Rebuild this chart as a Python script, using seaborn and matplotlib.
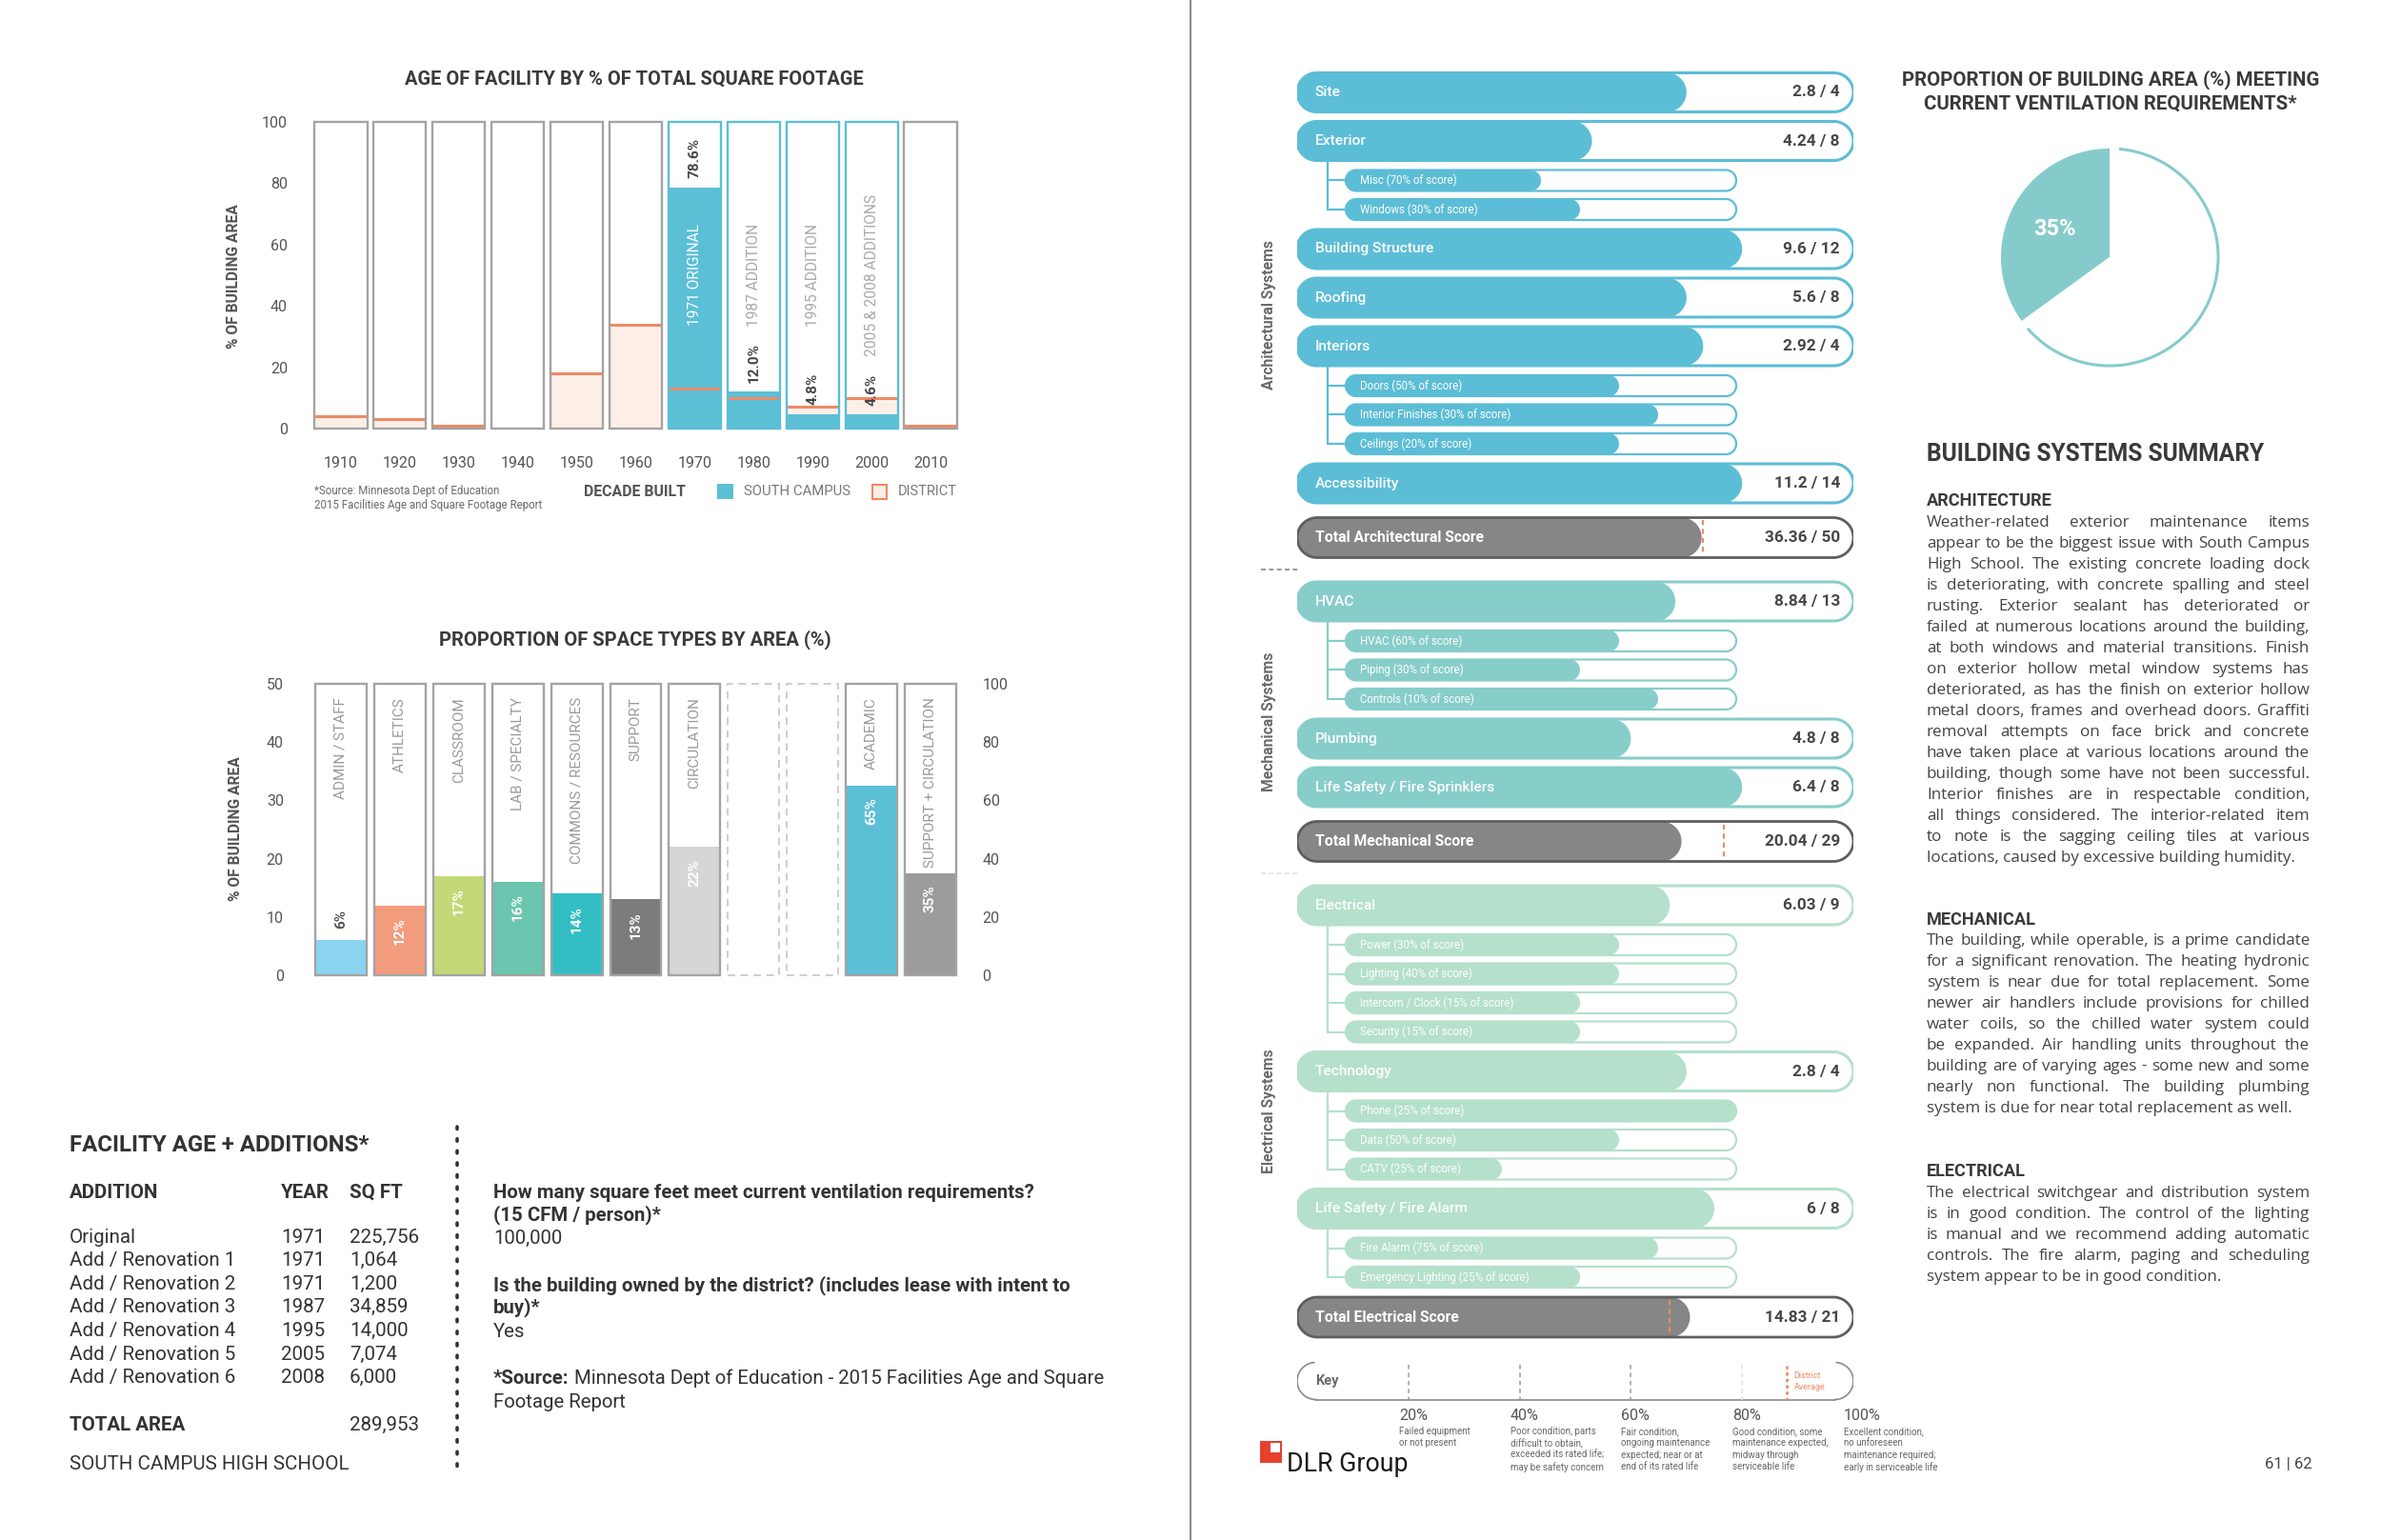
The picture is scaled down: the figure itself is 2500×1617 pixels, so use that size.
import numpy as np
import matplotlib
matplotlib.use("Agg")
import matplotlib.pyplot as plt
import seaborn as sns
from matplotlib.patches import Polygon, Rectangle, Arc

# ======================= DATA =======================
decades = ["1910", "1920", "1930", "1940", "1950", "1960", "1970", "1980", "1990", "2000", "2010"]
district_pct = [4, 3, 1, 0, 18, 34, 13, 10, 7, 10, 1]
campus_pct = [0, 0, 0, 0, 0, 0, 78.6, 12.0, 4.8, 4.6, 0]
campus_phase = ["", "", "", "", "", "", "1971 ORIGINAL", "1987 ADDITION", "1995 ADDITION",
                "2005 & 2008 ADDITIONS", ""]

space_types = ["ADMIN / STAFF", "ATHLETICS", "CLASSROOM", "LAB / SPECIALTY",
               "COMMONS / RESOURCES", "SUPPORT", "CIRCULATION"]
space_pct = [6, 12, 17, 16, 14, 13, 22]
space_colors = ["#8ad4f2", "#f39c7d", "#c3d977", "#6cc5ae", "#33bec3", "#7c7c7c", "#d6d6d6"]
group_types = ["ACADEMIC", "SUPPORT + CIRCULATION"]
group_pct = [65, 35]
group_colors = ["#5bbfd6", "#9c9c9c"]

addition_names = ["Original", "Add / Renovation 1", "Add / Renovation 2", "Add / Renovation 3",
                  "Add / Renovation 4", "Add / Renovation 5", "Add / Renovation 6"]
addition_years = [1971, 1971, 1971, 1987, 1995, 2005, 2008]
addition_sqft = [225756, 1064, 1200, 34859, 14000, 7074, 6000]

ventilation_pct = 35

arch_items = ["Site", "Exterior", "Building Structure", "Roofing", "Interiors", "Accessibility"]
arch_scores = [2.8, 4.24, 9.6, 5.6, 2.92, 11.2]
arch_max = [4, 8, 12, 8, 4, 14]
exterior_parts = ["Misc (70% of score)", "Windows (30% of score)"]
exterior_part_frac = [0.50, 0.60]
interiors_parts = ["Doors (50% of score)", "Interior Finishes (30% of score)", "Ceilings (20% of score)"]
interiors_part_frac = [0.70, 0.80, 0.70]

mech_items = ["HVAC", "Plumbing", "Life Safety / Fire Sprinklers"]
mech_scores = [8.84, 4.8, 6.4]
mech_max = [13, 8, 8]
hvac_parts = ["HVAC (60% of score)", "Piping (30% of score)", "Controls (10% of score)"]
hvac_part_frac = [0.70, 0.60, 0.80]

elec_items = ["Electrical", "Technology", "Life Safety / Fire Alarm"]
elec_scores = [6.03, 2.8, 6]
elec_max = [9, 4, 8]
electrical_parts = ["Power (30% of score)", "Lighting (40% of score)",
                    "Intercom / Clock (15% of score)", "Security (15% of score)"]
electrical_part_frac = [0.70, 0.70, 0.60, 0.60]
technology_parts = ["Phone (25% of score)", "Data (50% of score)", "CATV (25% of score)"]
technology_part_frac = [1.00, 0.70, 0.40]
alarm_parts = ["Fire Alarm (75% of score)", "Emergency Lighting (25% of score)"]
alarm_part_frac = [0.80, 0.60]

total_labels = ["Total Architectural Score", "Total Mechanical Score", "Total Electrical Score"]
total_scores = [36.36, 20.04, 14.83]
total_max = [50, 29, 21]
district_avg_frac = [0.73, 0.767, 0.67]

key_levels = [20, 40, 60, 80, 100]
key_desc = [
    ["Failed equipment", "or not present"],
    ["Poor condition, parts", "difficult to obtain,", "exceeded its rated life;", "may be safety concern"],
    ["Fair condition,", "ongoing maintenance", "expected; near or at", "end of its rated life"],
    ["Good condition, some", "maintenance expected,", "midway through", "serviceable life"],
    ["Excellent condition,", "no unforeseen", "maintenance required;", "early in serviceable life"],
]

arch_text = [
    "Weather-related exterior maintenance items",
    "appear to be the biggest issue with South Campus",
    "High School.  The existing concrete loading dock",
    "is deteriorating, with concrete spalling and steel",
    "rusting.  Exterior sealant has deteriorated or",
    "failed at numerous locations around the building,",
    "at both windows and material transitions.  Finish",
    "on exterior hollow metal window systems has",
    "deteriorated, as has the finish on exterior hollow",
    "metal doors, frames and overhead doors.  Graffiti",
    "removal attempts on face brick and concrete",
    "have taken place at various locations around the",
    "building, though some have not been successful.",
    "Interior finishes are in respectable condition,",
    "all things considered.  The interior-related item",
    "to note is the sagging ceiling tiles at various",
    "locations, caused by excessive building humidity.",
]
mech_text = [
    "The building, while operable, is a prime candidate",
    "for a significant renovation.  The heating hydronic",
    "system is near due for total replacement.  Some",
    "newer air handlers include provisions for chilled",
    "water coils, so the chilled water system could",
    "be expanded.  Air handling units throughout the",
    "building are of varying ages - some new and some",
    "nearly non functional.  The building plumbing",
    "system is due for near total replacement as well.",
]
elec_text = [
    "The electrical switchgear and distribution system",
    "is in good condition. The control of the lighting",
    "is manual and we recommend adding automatic",
    "controls. The fire alarm, paging and scheduling",
    "system appear to be in good condition.",
]

# ======================= STYLE =======================
W, H = 2500, 1617
sns.set_theme(style="white")
plt.rcParams["font.family"] = ["Roboto", "DejaVu Sans"]

TEAL = "#5bbfd6"
ORANGE = "#ee8a64"
DIST_FILL = "#fdefe8"
GRAY_EDGE = "#a3a3a3"
DARK = "#3a3a3a"
MID = "#555555"
ARCH_C = "#5cbdd6"
MECH_C = "#87cdca"
ELEC_C = "#b4e0cc"
TOT_C = "#868686"
TOT_EDGE = "#5e5e5e"
PIE_C = "#86cbcb"

fig = plt.figure(figsize=(W / 100, H / 100), dpi=100)
fig.patch.set_facecolor("white")
R = fig.canvas.get_renderer()


def px_axes(x0, y0, x1, y1):
    return fig.add_axes([x0 / W, 1 - y1 / H, (x1 - x0) / W, (y1 - y0) / H])


page = px_axes(0, 0, W, H)
page.set_xlim(0, W)
page.set_ylim(H, 0)
page.axis("off")


def twidth(t):
    return t.get_window_extent(R).width


def fit_size(s, width, **kw):
    t = page.text(0, 0, s, fontsize=10, **kw)
    w = twidth(t)
    t.remove()
    return 10 * width / w


def clean(ax):
    for s in ax.spines.values():
        s.set_visible(False)
    ax.grid(False)
    ax.set_xlabel("")
    ax.set_ylabel("")


# page divider
page.plot([1250, 1250], [0, H], color="#8c8c8c", lw=1.5)

# ======================= CHART 1 : AGE OF FACILITY =======================
BW = 0.89
ax1 = px_axes(327, 128, 1008, 450)
sns.barplot(x=decades, y=district_pct, order=decades, color=DIST_FILL, saturation=1,
            width=BW, linewidth=0, errorbar=None, ax=ax1)
sns.barplot(x=decades, y=campus_pct, order=decades, color=TEAL, saturation=1,
            width=BW, linewidth=0, errorbar=None, ax=ax1)
for i, v in enumerate(district_pct):
    if v > 0:
        ax1.hlines(v, i - BW / 2, i + BW / 2, color=ORANGE, lw=2.2, zorder=3)
n0 = len(ax1.patches)
sns.barplot(x=decades, y=[100] * len(decades), order=decades, fill=False, color=GRAY_EDGE,
            width=BW, linewidth=1.7, errorbar=None, ax=ax1)
for p, c in zip(ax1.patches[n0:], campus_pct):
    p.set_edgecolor(TEAL if c > 0 else GRAY_EDGE)
    p.set_clip_on(False)
    p.set_zorder(4)
phase_size = fit_size("1971 ORIGINAL", 107)
for i, (v, name) in enumerate(zip(campus_pct, campus_phase)):
    if v <= 0:
        continue
    ax1.text(i, v + 3, f"{v:.1f}%", rotation=90, ha="center", va="bottom", fontsize=11,
             fontweight="bold", color="#454545", zorder=5)
    ax1.text(i, 50, name, rotation=90, ha="center", va="center", fontsize=phase_size,
             color="white" if v > 50 else "#a9a9a9", zorder=5)
ax1.set_ylim(0, 100)
ax1.set_xlim(-0.5, len(decades) - 0.5)
ax1.set_yticks([0, 20, 40, 60, 80, 100])
ax1.tick_params(axis="x", length=0, pad=21, labelsize=11.5, labelcolor=MID)
ax1.tick_params(axis="y", length=0, pad=18, labelsize=11.5, labelcolor=MID)
clean(ax1)

s = fit_size("AGE OF FACILITY BY % OF TOTAL SQUARE FOOTAGE", 481, fontweight="bold")
page.text(666, 83, "AGE OF FACILITY BY % OF TOTAL SQUARE FOOTAGE", fontsize=s,
          fontweight="bold", color=DARK, ha="center", va="center")
ys = fit_size("% OF BUILDING AREA", 152, fontweight="bold")
page.text(246, 290, "% OF BUILDING AREA", fontsize=ys, fontweight="bold", color=MID,
          rotation=90, ha="center", va="center")
fs = fit_size("2015 Facilities Age and Square Footage Report", 240)
page.text(330, 515, "*Source: Minnesota Dept of Education", fontsize=fs, color="#6a6a6a", va="center")
page.text(330, 530, "2015 Facilities Age and Square Footage Report", fontsize=fs, color="#6a6a6a",
          va="center")
ds = fit_size("DECADE BUILT", 107, fontweight="bold")
page.text(613, 516, "DECADE BUILT", fontsize=ds, fontweight="bold", color=MID, va="center")
page.add_patch(Rectangle((753, 508), 17, 16, facecolor=TEAL, edgecolor="none"))
page.text(781, 516, "SOUTH CAMPUS", fontsize=fit_size("SOUTH CAMPUS", 111), color="#777777", va="center")
page.add_patch(Rectangle((916, 509), 15, 15, facecolor=DIST_FILL, edgecolor=ORANGE, lw=1.5))
page.text(943, 516, "DISTRICT", fontsize=fit_size("DISTRICT", 62), color="#777777", va="center")

# ======================= CHART 2 : SPACE TYPES =======================
BW2 = 0.87
slots = space_types + [" ", "  "] + group_types
ax2 = px_axes(327, 718, 1008, 1024)
ax2r = ax2.twinx()
sns.barplot(x=space_types, y=space_pct, hue=space_types, hue_order=space_types,
            palette=space_colors, order=slots, saturation=1, width=BW2, linewidth=0,
            errorbar=None, legend=False, ax=ax2)
sns.barplot(x=group_types, y=group_pct, hue=group_types, hue_order=group_types,
            palette=group_colors, order=slots, saturation=1, width=BW2, linewidth=0,
            errorbar=None, legend=False, ax=ax2r)
n0 = len(ax2r.patches)
sns.barplot(x=slots, y=[100] * len(slots), order=slots, fill=False, color=GRAY_EDGE,
            width=BW2, linewidth=1.7, errorbar=None, ax=ax2r)
for k, p in enumerate(ax2r.patches[n0:]):
    p.set_clip_on(False)
    if slots[k].strip() == "":
        p.set_linestyle((0, (4, 3)))
        p.set_edgecolor("#cdcdcd")
        p.set_linewidth(1.4)
cat_size = fit_size("COMMONS / RESOURCES", 175)
for k, name in enumerate(slots):
    if name.strip():
        ax2r.text(k, 95.4, name, rotation=90, ha="center", va="top", fontsize=cat_size,
                  color="#9a9a9a", zorder=5)
for k, (name, v) in enumerate(zip(space_types, space_pct)):
    above = v < 8
    ax2.text(slots.index(name), v + 3.6 if above else v - 4.4, f"{v}%", rotation=90,
             ha="center", va="center", fontsize=11, fontweight="bold",
             color="#555555" if above else "white", zorder=5)
for name, v in zip(group_types, group_pct):
    ax2r.text(slots.index(name), v - 8.8, f"{v}%", rotation=90, ha="center", va="center",
              fontsize=11, fontweight="bold", color="white", zorder=5)
ax2.set_ylim(0, 50)
ax2r.set_ylim(0, 100)
ax2.set_xlim(-0.5, len(slots) - 0.5)
ax2.set_yticks([0, 10, 20, 30, 40, 50])
ax2r.set_yticks([0, 20, 40, 60, 80, 100])
ax2.set_xticks([])
ax2.tick_params(axis="y", length=0, pad=21, labelsize=11.5, labelcolor=MID)
ax2r.tick_params(axis="y", length=0, pad=17, labelsize=11.5, labelcolor=MID)
clean(ax2)
clean(ax2r)
s = fit_size("PROPORTION OF SPACE TYPES BY AREA (%)", 412, fontweight="bold")
page.text(667, 672, "PROPORTION OF SPACE TYPES BY AREA (%)", fontsize=s, fontweight="bold",
          color=DARK, ha="center", va="center")
page.text(247, 870, "% OF BUILDING AREA", fontsize=ys, fontweight="bold", color=MID,
          rotation=90, ha="center", va="center")

# ======================= TABLE + Q&A =======================
TXT = "#333333"
s = fit_size("FACILITY AGE + ADDITIONS*", 314, fontweight="bold")
page.text(73, 1202, "FACILITY AGE + ADDITIONS*", fontsize=s, fontweight="bold", color=TXT, va="center")
ts = fit_size("Add / Renovation 1", 174)
page.text(73, 1252, "ADDITION", fontsize=ts, fontweight="bold", color=TXT, va="center")
page.text(295, 1252, "YEAR", fontsize=ts, fontweight="bold", color=TXT, va="center")
page.text(367, 1252, "SQ FT", fontsize=ts, fontweight="bold", color=TXT, va="center")
for k, (nm, yr, sq) in enumerate(zip(addition_names, addition_years, addition_sqft)):
    yy = 1299 + k * 24.6
    page.text(73, yy, nm, fontsize=ts, color=TXT, va="center")
    page.text(295, yy, str(yr), fontsize=ts, color=TXT, va="center")
    page.text(367, yy, f"{sq:,}", fontsize=ts, color=TXT, va="center")
page.text(73, 1496, "TOTAL AREA", fontsize=ts, fontweight="bold", color=TXT, va="center")
page.text(367, 1496, f"{sum(addition_sqft):,}", fontsize=ts, color=TXT, va="center")
page.text(73, 1537, "SOUTH CAMPUS HIGH SCHOOL", fontsize=ts, color=TXT, va="center")
page.plot([480, 480], [1183, 1543], color="#333333", lw=2.6, linestyle=(0, (0.7, 2.8)),
          solid_capstyle="round", dash_capstyle="round")

qs = fit_size("How many square feet meet current ventilation requirements?", 570, fontweight="bold")
page.text(518, 1252, "How many square feet meet current ventilation requirements?", fontsize=qs,
          fontweight="bold", color=TXT, va="center")
page.text(518, 1276, "(15 CFM / person)*", fontsize=qs, fontweight="bold", color=TXT, va="center")
page.text(518, 1300, "100,000", fontsize=qs, color=TXT, va="center")
page.text(518, 1350, "Is the building owned by the district? (includes lease with intent to",
          fontsize=qs, fontweight="bold", color=TXT, va="center")
page.text(518, 1373, "buy)*", fontsize=qs, fontweight="bold", color=TXT, va="center")
page.text(518, 1398, "Yes", fontsize=qs, color=TXT, va="center")
t1 = page.text(518, 1447, "*Source:", fontsize=qs, fontweight="bold", color=TXT, va="center")
page.text(518 + twidth(t1) + qs * 0.35, 1447,
          "Minnesota Dept of Education - 2015 Facilities Age and Square", fontsize=qs,
          color=TXT, va="center")
page.text(518, 1472, "Footage Report", fontsize=qs, color=TXT, va="center")

# ======================= SCORE BARS =======================
X0, X1 = 1362, 1946
KX = X1 - X0
axs = px_axes(X0, 0, X1, H)
axs.set_xlim(0, 1)
axs.set_ylim(H, 0)
axs.axis("off")

MAIN_H, SUB_H, TOT_H = 41, 22, 42
SUB_X0, SUB_X1 = (1413 - X0) / KX, (1823 - X0) / KX
TREE_X = (1394 - X0) / KX
LABEL_X = (1381 - X0) / KX
VALUE_X = (1932 - X0) / KX
SUBLABEL_X = (1428 - X0) / KX

main_size = fit_size("Building Structure", 124, fontweight="medium")
value_size = fit_size("9.6 / 12", 60, fontweight="bold")
total_size = fit_size("Total Architectural Score", 178, fontweight="bold")
sub_size = fit_size("Interior Finishes (30% of score)", 160)


def stadium(x0, x1, yc, h, **kw):
    r = h / 2
    rx = r / KX
    th = np.linspace(-np.pi / 2, np.pi / 2, 40)
    right = np.column_stack([x1 - rx + rx * np.cos(th), yc + r * np.sin(th)])
    left = np.column_stack([x0 + rx - rx * np.cos(th), yc - r * np.sin(th)])
    axs.add_patch(Polygon(np.vstack([right, left]), closed=True, **kw))


def bar(x0, x1, frac, yc, h, color, edge, lw):
    stadium(x0, x0 + (x1 - x0) * frac, yc, h, facecolor=color, edgecolor="none", zorder=2)
    stadium(x0, x1, yc, h, facecolor="none", edgecolor=edge, lw=lw, zorder=3)


parts_by_item = {
    "Exterior": (exterior_parts, exterior_part_frac),
    "Interiors": (interiors_parts, interiors_part_frac),
    "HVAC": (hvac_parts, hvac_part_frac),
    "Electrical": (electrical_parts, electrical_part_frac),
    "Technology": (technology_parts, technology_part_frac),
    "Life Safety / Fire Alarm": (alarm_parts, alarm_part_frac),
}
groups = [
    ("Architectural Systems", arch_items, arch_scores, arch_max, ARCH_C),
    ("Mechanical Systems", mech_items, mech_scores, mech_max, MECH_C),
    ("Electrical Systems", elec_items, elec_scores, elec_max, ELEC_C),
]
steps = {("main", "main"): 51, ("main", "sub"): 41.5, ("sub", "sub"): 30.5,
         ("sub", "main"): 41.5, ("main", "total"): 57, ("sub", "total"): 42,
         ("total", "main"): 67, ("total", "key"): 67}

y = 97
prev = None
bounds = []
for gi, (sec, items, scores, maxes, col) in enumerate(groups):
    first = None
    for item, sc, mx in zip(items, scores, maxes):
        if prev is not None:
            y += steps[(prev, "main")]
        if first is None:
            first = y
        prev = "main"
        bar(0, 1, sc / mx, y, MAIN_H, col, col, 2.2)
        axs.text(LABEL_X, y, item, fontsize=main_size, fontweight="medium", color="white",
                 va="center", ha="left", zorder=5)
        axs.text(VALUE_X, y, f"{sc:g} / {mx}", fontsize=value_size, fontweight="bold",
                 color="#474747", va="center", ha="right", zorder=5)
        if item in parts_by_item:
            top = y + MAIN_H / 2
            labs, fracs = parts_by_item[item]
            for lab, fr in zip(labs, fracs):
                y += steps[(prev, "sub")]
                prev = "sub"
                bar(SUB_X0, SUB_X1, fr, y, SUB_H, col, col, 1.6)
                axs.plot([TREE_X, SUB_X0 + 0.005], [y, y], color=col, lw=1.6, zorder=1)
                axs.text(SUBLABEL_X, y, lab, fontsize=sub_size, color="white", va="center",
                         ha="left", zorder=5)
            axs.plot([TREE_X, TREE_X], [top, y], color=col, lw=1.6, zorder=1)
    y += steps[(prev, "total")]
    prev = "total"
    bar(0, 1, total_scores[gi] / total_max[gi], y, TOT_H, TOT_C, TOT_EDGE, 2.0)
    axs.plot([district_avg_frac[gi]] * 2, [y - TOT_H / 2 + 3, y + TOT_H / 2 - 3], color=ORANGE,
             lw=1.5, linestyle=(0, (2.5, 2)), zorder=4)
    axs.text(LABEL_X, y, total_labels[gi], fontsize=total_size, fontweight="bold", color="white",
             va="center", ha="left", zorder=5)
    axs.text(VALUE_X, y, f"{total_scores[gi]:g} / {total_max[gi]}", fontsize=value_size,
             fontweight="bold", color="#474747", va="center", ha="right", zorder=5)
    bounds.append((first, y))

sec_size = fit_size("Architectural Systems", 158, fontweight="bold")
for (sec, *_), (a, b) in zip(groups, bounds):
    page.text(1332, (a + b) / 2, sec, rotation=90, fontsize=sec_size, fontweight="bold",
              color="#6a6a6a", ha="center", va="center")
mid1 = (bounds[0][1] + TOT_H / 2 + bounds[1][0] - MAIN_H / 2) / 2
page.plot([1324, 1363], [mid1, mid1], color="#888888", lw=1.2, linestyle=(0, (3, 2)))
mid2 = (bounds[1][1] + TOT_H / 2 + bounds[2][0] - MAIN_H / 2) / 2
page.plot([1324, 1363], [mid2, mid2], color="#e4e4e4", lw=1.2, linestyle=(0, (3, 2)))

# ---- key ----
ky = y + steps[("total", "key")]
kh = 39
rx = (kh / 2) / KX
KEYC = "#8a8a8a"
axs.plot([rx, 1 - rx], [ky + kh / 2] * 2, color=KEYC, lw=1.2)
th = np.radians(np.linspace(95, 270, 40))
axs.plot(rx + rx * np.cos(th), ky - (kh / 2) * np.sin(th), color=KEYC, lw=1.2)
th = np.radians(np.linspace(-90, 85, 40))
axs.plot(1 - rx + rx * np.cos(th), ky - (kh / 2) * np.sin(th), color=KEYC, lw=1.2)
for lv in key_levels[:-1]:
    axs.plot([lv / 100] * 2, [ky - kh / 2 + 2, ky + kh / 2], color="#9a9a9a" if lv < 80 else "#e3e3e3",
             lw=1.1, linestyle=(0, (3, 2.5)))
axs.plot([0.88] * 2, [ky - kh / 2 + 3, ky + kh / 2], color=ORANGE, lw=2, linestyle=(0, (1.2, 1.2)))
axs.text(0.893, ky - 6, "District", fontsize=6.5, color=ORANGE, va="center", ha="left")
axs.text(0.893, ky + 6, "Average", fontsize=6.5, color=ORANGE, va="center", ha="left")
axs.text(LABEL_X, ky, "Key", fontsize=10.5, fontweight="bold", color="#6a6a6a", va="center", ha="left")
ks = fit_size("Poor condition, parts", 90)
for lv, desc in zip(key_levels, key_desc):
    xx = lv / 100 - 10 / KX
    axs.text(xx, ky + 36, f"{lv}%", fontsize=11.5, color="#555555", va="center", ha="left",
             clip_on=False)
    for j, line in enumerate(desc):
        axs.text(xx, ky + 53 + j * 12.4, line, fontsize=ks, color="#666666", va="center",
                 ha="left", clip_on=False)

# ---- logo / page number ----
page.add_patch(Rectangle((1323, 1513), 23, 23, facecolor="#e5412d", edgecolor="none"))
page.add_patch(Rectangle((1334, 1515), 10, 10, facecolor="white", edgecolor="none"))
page.text(1351, 1545, "DLR Group", fontsize=fit_size("DLR Group", 127), color="#1a1a1a",
          va="baseline", ha="left")
page.text(2428, 1537, "61 | 62", fontsize=12, color="#444444", va="center", ha="right")

# ======================= PIE =======================
s1 = fit_size("PROPORTION OF BUILDING AREA (%) MEETING", 436, fontweight="bold")
page.text(2216, 84, "PROPORTION OF BUILDING AREA (%) MEETING", fontsize=s1, fontweight="bold",
          color=DARK, ha="center", va="center")
page.text(2216, 109, "CURRENT VENTILATION REQUIREMENTS*", fontsize=s1, fontweight="bold",
          color=DARK, ha="center", va="center")
axp = px_axes(2215 - 130, 270 - 130, 2215 + 130, 270 + 130)
axp.pie([ventilation_pct, 100 - ventilation_pct], startangle=90, counterclock=True,
        colors=[PIE_C, "white"], radius=1, wedgeprops=dict(linewidth=0))
gap = 5
start = 90 + 360 * ventilation_pct / 100
axp.add_patch(Arc((0, 0), 2, 2, theta1=start + gap, theta2=90 - gap, edgecolor=PIE_C, lw=2.2))
mid = np.radians(90 + 180 * ventilation_pct / 100)
axp.text(0.57 * np.cos(mid), 0.57 * np.sin(mid), f"{ventilation_pct}%", fontsize=17,
         fontweight="bold", color="white", ha="center", va="center")
axp.set_xlim(-1.14, 1.14)
axp.set_ylim(-1.14, 1.14)
axp.set_aspect("equal")
axp.axis("off")

# ======================= SUMMARY TEXT =======================
PX0, PX1 = 2023, 2425
PFONT = "Open Sans"
s = fit_size("BUILDING SYSTEMS SUMMARY", 354, fontweight="bold")
page.text(PX0, 477, "BUILDING SYSTEMS SUMMARY", fontsize=s, fontweight="bold", color=DARK, va="center")
hs = fit_size("ARCHITECTURE", 131, fontweight="bold")
psize = min(fit_size(l, PX1 - PX0, family=PFONT) for l in arch_text + mech_text + elec_text) * 0.99


def paragraph(lines, y0, dy=22):
    for k, line in enumerate(lines):
        yy = y0 + k * dy
        if k == len(lines) - 1:
            page.text(PX0, yy, line, fontsize=psize, family=PFONT, color="#444444", va="center")
            continue
        words = line.split()
        tt = [page.text(PX0, yy, w_, fontsize=psize, family=PFONT, color="#444444", va="center")
              for w_ in words]
        ws = [twidth(t) for t in tt]
        g = (PX1 - PX0 - sum(ws)) / max(len(words) - 1, 1)
        xx = PX0
        for t, w_ in zip(tt, ws):
            t.set_x(xx)
            xx += w_ + g


page.text(PX0, 526, "ARCHITECTURE", fontsize=hs, fontweight="bold", color=DARK, va="center")
paragraph(arch_text, 549)
page.text(PX0, 966, "MECHANICAL", fontsize=hs, fontweight="bold", color=DARK, va="center")
paragraph(mech_text, 988)
page.text(PX0, 1230, "ELECTRICAL", fontsize=hs, fontweight="bold", color=DARK, va="center")
paragraph(elec_text, 1253)

fig.savefig("out.png", dpi=100, facecolor="white")
